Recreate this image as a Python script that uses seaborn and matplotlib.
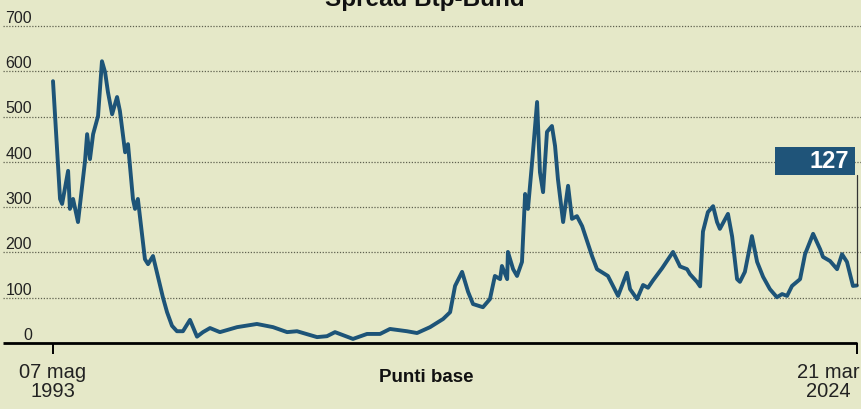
import matplotlib
matplotlib.use("Agg")
import matplotlib.pyplot as plt
from matplotlib.patches import Rectangle
import matplotlib.transforms as mtransforms
import seaborn as sns
import pandas as pd

# ---- data (decimal years, basis points) ----
years = [1993.35, 1993.62, 1993.70, 1993.93, 1994.00, 1994.12, 1994.31, 1994.58, 1994.66, 1994.77,
         1994.89, 1995.08, 1995.23, 1995.35, 1995.46, 1995.62, 1995.81, 1995.92, 1996.12, 1996.23,
         1996.42, 1996.50, 1996.61, 1996.88, 1997.00, 1997.19, 1997.57, 1997.73, 1997.92, 1998.11,
         1998.34, 1998.61, 1998.88, 1999.11, 1999.38, 1999.76, 2000.42, 2001.18, 2001.80, 2002.34,
         2002.72, 2003.49, 2003.87, 2004.18, 2004.87, 2005.41, 2005.91, 2006.29, 2006.94, 2007.33,
         2007.83, 2008.33, 2008.60, 2008.79, 2009.06, 2009.29, 2009.48, 2009.86, 2010.13, 2010.32,
         2010.52, 2010.59, 2010.79, 2010.82, 2011.02, 2011.17, 2011.36, 2011.48, 2011.59, 2011.75,
         2011.94, 2012.05, 2012.17, 2012.32, 2012.51, 2012.63, 2012.74, 2012.94, 2013.13, 2013.28,
         2013.47, 2013.67, 2014.05, 2014.24, 2014.66, 2015.05, 2015.39, 2015.51, 2015.78, 2016.01,
         2016.20, 2016.39, 2016.74, 2017.16, 2017.43, 2017.70, 2017.81, 2018.08, 2018.20, 2018.31,
         2018.50, 2018.70, 2018.85, 2018.96, 2019.27, 2019.43, 2019.62, 2019.73, 2019.92, 2020.19,
         2020.39, 2020.62, 2020.88, 2021.15, 2021.35, 2021.54, 2021.73, 2022.04, 2022.23, 2022.54,
         2022.81, 2022.92, 2023.19, 2023.46, 2023.65, 2023.84, 2024.07, 2024.22]
spread = [578, 318, 307, 380, 296, 318, 267, 402, 461, 406,
          461, 501, 622, 598, 554, 505, 543, 512, 421, 439,
          318, 296, 318, 185, 174, 192, 101, 68, 38, 26,
          26, 51, 14, 24, 33, 24, 35, 42, 35, 24,
          26, 13, 15, 24, 9, 20, 20, 31, 26, 22,
          35, 53, 68, 126, 157, 113, 86, 79, 97, 148,
          141, 170, 141, 201, 163, 148, 179, 329, 296, 400,
          532, 377, 333, 466, 479, 435, 362, 267, 347, 274,
          280, 258, 192, 163, 148, 104, 155, 119, 97, 128,
          122, 138, 165, 201, 169, 163, 152, 135, 125, 246,
          289, 302, 267, 252, 285, 235, 141, 135, 157, 236,
          179, 146, 119, 101, 108, 104, 126, 141, 196, 241,
          207, 190, 181, 163, 196, 179, 126, 127]

y_ticks = [0, 100, 200, 300, 400, 500, 600, 700]
x_tick_pos = [1993.35, 2024.22]
x_tick_labels = ["07 mag\n1993", "21 mar\n2024"]
title = "Spread Btp-Bund"
y_label = "Punti base"
last_label = "127"

df = pd.DataFrame({"anno": years, "spread": spread})

# ---- style ----
BG = "#e5e8c8"
LINE = "#1d5478"
sns.set_theme(style="white")
plt.rcParams["font.family"] = ["Liberation Sans", "DejaVu Sans"]

W, H = 861, 410
fig = plt.figure(figsize=(W / 100, H / 100), dpi=100, facecolor=BG)
ax = fig.add_axes([3 / W, (H - 344) / H, 858 / W, (344 - 20) / H])
ax.set_facecolor(BG)

ppy = 26.04  # pixels per year
x0 = 1993.35 - 50 / ppy
ax.set_xlim(x0, x0 + 858 / ppy)
ax.set_ylim(0, 324 / 0.453)

for s in ax.spines.values():
    s.set_visible(False)

# dotted grid
for v in y_ticks[1:]:
    ax.axhline(v, color="#5f6150", lw=0.9, ls=(0, (1, 1.3)), zorder=1)
# baseline
ax.plot([x0, x_tick_pos[1]], [0, 0], color="black", lw=2.0, zorder=3, clip_on=False,
        solid_capstyle="butt")

sns.lineplot(data=df, x="anno", y="spread", ax=ax, color=LINE, linewidth=2.8, zorder=4)
ax.set_xlabel("")
ax.set_ylabel("")

# y labels above the gridlines
off_up = mtransforms.offset_copy(ax.get_yaxis_transform(), fig=fig, x=0, y=4, units="dots")
for v in y_ticks:
    ax.text((32 - 3) / 858, v, str(v), transform=off_up, ha="right", va="baseline",
            fontsize=11.5, color="#222222")
ax.set_yticks([])

# x ticks
ax.set_xticks(x_tick_pos)
ax.set_xticklabels(["", ""])
ax.tick_params(axis="x", direction="out", length=8, width=1.4, color="black", bottom=True)
lab_tr = ax.get_xaxis_transform()
ax.text(x_tick_pos[0], -0.058, x_tick_labels[0], transform=lab_tr, ha="center", va="top",
        fontsize=14.5, color="#222222", linespacing=1.0)
shift = mtransforms.offset_copy(lab_tr, fig=fig, x=-29, y=0, units="dots")
ax.text(x_tick_pos[1], -0.058, x_tick_labels[1], transform=shift, ha="center", va="top",
        fontsize=14.5, color="#222222", linespacing=1.0)

# axis caption and title
fig.text(426 / W, (H - 378) / H, y_label, ha="center", va="center", fontsize=13.5,
         fontweight="bold", color="#111111")
fig.text(425 / W, (H - 6) / H, title, ha="center", va="baseline", fontsize=17.5,
         fontweight="bold", color="#111111")

# last value box
box_bottom = (344 - 176) / 0.453
ax.plot([years[-1], years[-1]], [spread[-1], box_bottom], color="#333333", lw=0.9, zorder=5)
fig.patches.append(Rectangle((775 / W, (H - 176) / H), 80 / W, 28 / H, transform=fig.transFigure,
                             facecolor="#1f5479", edgecolor="none", zorder=6))
fig.text(849 / W, (H - 162) / H, last_label, ha="right", va="center", fontsize=17,
         fontweight="bold", color="white", zorder=7)

fig.savefig("out.png", dpi=100, facecolor=BG)
